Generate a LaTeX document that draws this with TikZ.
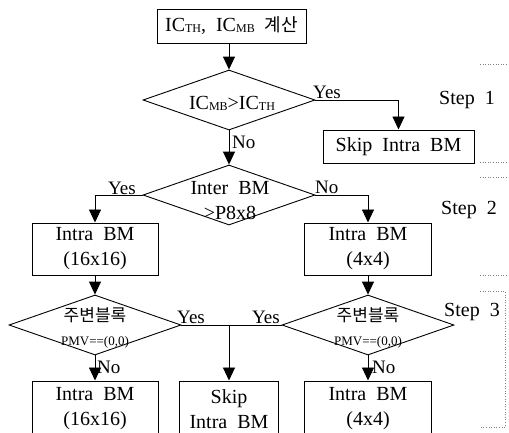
\documentclass[tikz,border=0pt]{standalone}
\usepackage{fontspec}
\setmainfont{Liberation Serif}
\newfontfamily\krfont{Noto Sans CJK KR}
\usetikzlibrary{shapes.geometric,arrows.meta}
\newcommand\lowsub[1]{\raisebox{-1pt}{\fontsize{12}{12}\selectfont #1}}
\newcommand\widesp{\spaceskip=0.5em plus 0.1em\relax}
\begin{document}
\begin{tikzpicture}[x=1pt,y=-1pt,
  box/.style={draw,line width=1pt,inner sep=0pt,font=\fontsize{20}{25}\selectfont\widesp,align=center},
  dia/.style={draw,diamond,line width=0.9pt,inner sep=0pt,minimum width=172pt,minimum height=60pt},
  arr/.style={line width=0.9pt,-{Triangle[width=12pt,length=13pt]}},
  conn/.style={line width=0.9pt},
  lab/.style={inner sep=0pt,font=\fontsize{19}{19}\selectfont},
  steplab/.style={inner sep=0pt,font=\fontsize{20}{20}\selectfont},
  txt/.style={inner sep=0pt,font=\fontsize{20}{25}\selectfont\widesp,align=center},
  small/.style={inner sep=0pt,font=\fontsize{13}{13}\selectfont},
  kr/.style={inner sep=0pt,font=\fontsize{17}{17}\krfont},
  guide/.style={draw=gray,dotted,line width=0.6pt}
]
\useasboundingbox (0,0) rectangle (509,432);

% boxes
\node[box,minimum width=149pt,minimum height=34pt] (top) at (231.5,26) {IC\lowsub{TH}, IC\lowsub{MB} {\krfont\fontsize{18}{18}\selectfont 계산}};
\node[box,minimum width=151pt,minimum height=33pt] (skip1) at (398.5,146.5) {Skip Intra BM};
\node[box,minimum width=126pt,minimum height=52pt] (b16) at (95,249) {Intra BM\\(16x16)};
\node[box,minimum width=127pt,minimum height=52pt] (b4) at (368,249) {Intra BM\\(4x4)};
\node[box,minimum width=126pt,minimum height=56pt] (b16b) at (95,409) {Intra BM\\(16x16)};
\node[box,minimum width=99pt,minimum height=56pt] (skip2) at (229,409) {Skip\\Intra BM};
\node[box,minimum width=127pt,minimum height=56pt] (b4b) at (368,409) {Intra BM\\(4x4)};

% diamonds
\node[dia] (d1) at (229,100) {};
\node[dia] (d2) at (229,195) {};
\node[dia] (d3) at (95,325) {};
\node[dia] (d4) at (368,325) {};

% diamond texts
\node[txt] (d1t) at (232,103) {IC\lowsub{MB}>IC\lowsub{TH}};
\node[txt] (d2t) at (230,200.5) {Inter BM\\>P8x8};
\node[kr] (d3k) at (95,315) {주변블록};
\node[small] (d3p) at (95,342) {PMV==(0,0)};
\node[kr] (d4k) at (368,315) {주변블록};
\node[small] (d4p) at (368,342) {PMV==(0,0)};

% connectors
\draw[arr] (top.south -| d1.north) -- (d1.north);
\draw[arr] (d1.south) -- (d2.north);
\draw[arr] (d1.east) -| (skip1.north);
\draw[arr] (d2.west) -| (b16.north);
\draw[arr] (d2.east) -| (b4.north);
\draw[arr] (b16.south) -- (d3.north);
\draw[arr] (b4.south) -- (d4.north);
\draw[conn] (d3.east) -- (d4.west);
\coordinate (j) at (d3.east -| skip2.north);
\draw[arr] (j) -- (skip2.north);
\draw[arr] (d3.south) -- (b16b.north);
\draw[arr] (d4.south) -- (b4b.north);

% connector labels
\node[lab,anchor=base west] (y1) at (313,98) {Yes};
\node[lab,anchor=west] (n1) at (232,142) {No};
\node[lab,anchor=base east] (y2) at (136,194) {Yes};
\node[lab,anchor=base west] (n2) at (315,193) {No};
\node[lab,anchor=base west] (y3) at (177,323) {Yes};
\node[lab,anchor=base east] (y4) at (280,323) {Yes};
\node[lab,anchor=west] (n3) at (97,367) {No};
\node[lab,anchor=west] (n4) at (372,367) {No};

% step labels
\node[steplab,anchor=west] (s1) at (439,100) {Step\ \ 1};
\node[steplab,anchor=west] (s2) at (441,210) {Step\ \ 2};
\node[steplab,anchor=west] (s3) at (444,312) {Step\ \ 3};

% dotted guides
\draw[guide] (480,64) -- (509,64);
\draw[guide] (480,162) -- (509,162);
\draw[guide] (480,177) -- (509,177);
\draw[guide] (480,275) -- (509,275);
\draw[guide] (480,291) -- (505,291) -- (505,427) -- (480,427);
\end{tikzpicture}
\end{document}
